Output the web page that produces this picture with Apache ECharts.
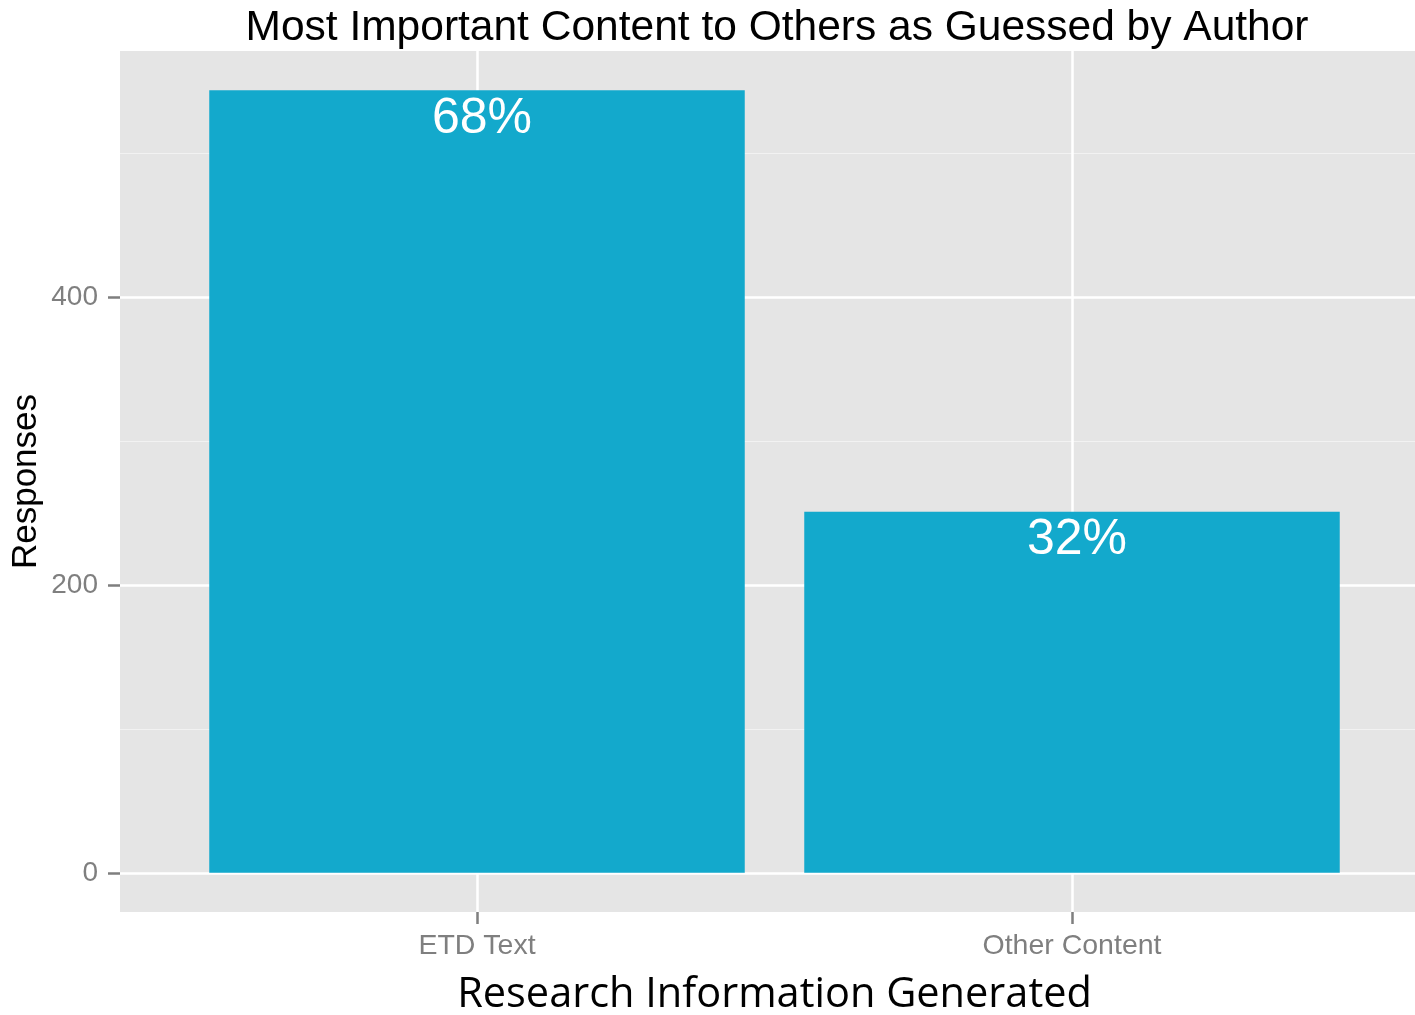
<!DOCTYPE html>
<html>
<head>
<meta charset="utf-8">
<script src="https://cdn.jsdelivr.net/npm/echarts@6/dist/echarts.min.js"></script>
<style>
  html, body { margin: 0; padding: 0; background: #ffffff; }
  #chart { width: 1415px; height: 1015px; }
</style>
</head>
<body>
<div id="chart"></div>
<script>
// Survey responses per content type
const categories = ['ETD Text', 'Other Content'];
const responses = [544, 251];
const majorTicks = [0, 200, 400];
const minorTicks = [100, 300, 500];

const total = responses.reduce((a, b) => a + b, 0);
const maxVal = Math.max(...responses);
// ggplot-style padding: 5% of the range on the value axis, 0.6 on the discrete axis
const yMin = -0.05 * maxVal;
const yMax = 1.05 * maxVal;
const xMin = 1 - 0.6;
const xMax = categories.length + 0.6;
const catPositions = categories.map((c, i) => i + 1);

const grey50 = '#7f7f7f';

const chart = echarts.init(document.getElementById('chart'), null, { renderer: 'canvas' });

chart.setOption({
  backgroundColor: '#ffffff',
  animation: false,
  title: {
    text: 'Most Important Content to Others as Guessed by Author',
    left: 772,
    top: 2,
    textAlign: 'center',
    textStyle: {
      fontFamily: 'Liberation Sans, Arial, sans-serif',
      fontWeight: 'normal',
      fontSize: 42.5,
      color: '#000000'
    }
  },
  grid: {
    left: 120,
    top: 51,
    width: 1309,
    bottom: 103,
    outerBoundsMode: 'none',
    containLabel: false,
    show: true,
    backgroundColor: '#e5e5e5',
    borderWidth: 0
  },
  xAxis: {
    type: 'value',
    min: xMin,
    max: xMax,
    name: 'Research Information Generated',
    nameLocation: 'middle',
    nameGap: 62,
    nameMoveOverlap: false,
    nameTextStyle: {
      fontFamily: 'Open Sans, Noto Sans, sans-serif',
      fontSize: 41.5,
      color: '#000000'
    },
    axisLine: { show: false, onZero: false },
    axisTick: {
      show: true,
      customValues: catPositions,
      length: 12,
      lineStyle: { color: grey50, width: 2.5 }
    },
    axisLabel: {
      customValues: catPositions,
      formatter: v => categories[Math.round(v) - 1],
      margin: 20,
      color: grey50,
      fontFamily: 'Liberation Sans, Arial, sans-serif',
      fontSize: 28.5
    },
    splitLine: { show: true, lineStyle: { color: '#ffffff', width: 2.5 } }
  },
  yAxis: [
    {
      type: 'value',
      min: yMin,
      max: yMax,
      name: 'Responses',
      nameLocation: 'middle',
      nameGap: 76,
      nameRotate: 90,
      nameMoveOverlap: false,
      nameTextStyle: {
        fontFamily: 'Liberation Sans, Arial, sans-serif',
        fontSize: 35,
        color: '#000000'
      },
      axisLine: { show: false, onZero: false },
      axisTick: {
        show: true,
        customValues: majorTicks,
        length: 12,
        lineStyle: { color: grey50, width: 2.5 }
      },
      axisLabel: {
        customValues: majorTicks,
        margin: 22,
        color: grey50,
        fontFamily: 'Liberation Sans, Arial, sans-serif',
        fontSize: 28
      },
      splitLine: { show: true, lineStyle: { color: '#ffffff', width: 2.5 } }
    },
    {
      // minor grid lines only
      type: 'value',
      min: yMin,
      max: yMax,
      position: 'left',
      axisLine: { show: false, onZero: false },
      axisTick: { show: false, customValues: minorTicks },
      axisLabel: { show: false, customValues: minorTicks },
      splitLine: { show: true, lineStyle: { color: '#f2f2f2', width: 1.2 } }
    }
  ],
  series: [
    {
      type: 'bar',
      yAxisIndex: 0,
      data: responses.map((v, i) => [catPositions[i], v]),
      barWidth: '90%',
      itemStyle: { color: '#13a9cc' },
      label: {
        show: true,
        position: 'insideTop',
        distance: 4,
        offset: [5, 0],
        color: '#ffffff',
        fontFamily: 'Liberation Sans, Arial, sans-serif',
        fontSize: 50,
        formatter: p => Math.round(p.value[1] / total * 100) + '%'
      }
    }
  ]
});
</script>
</body>
</html>
